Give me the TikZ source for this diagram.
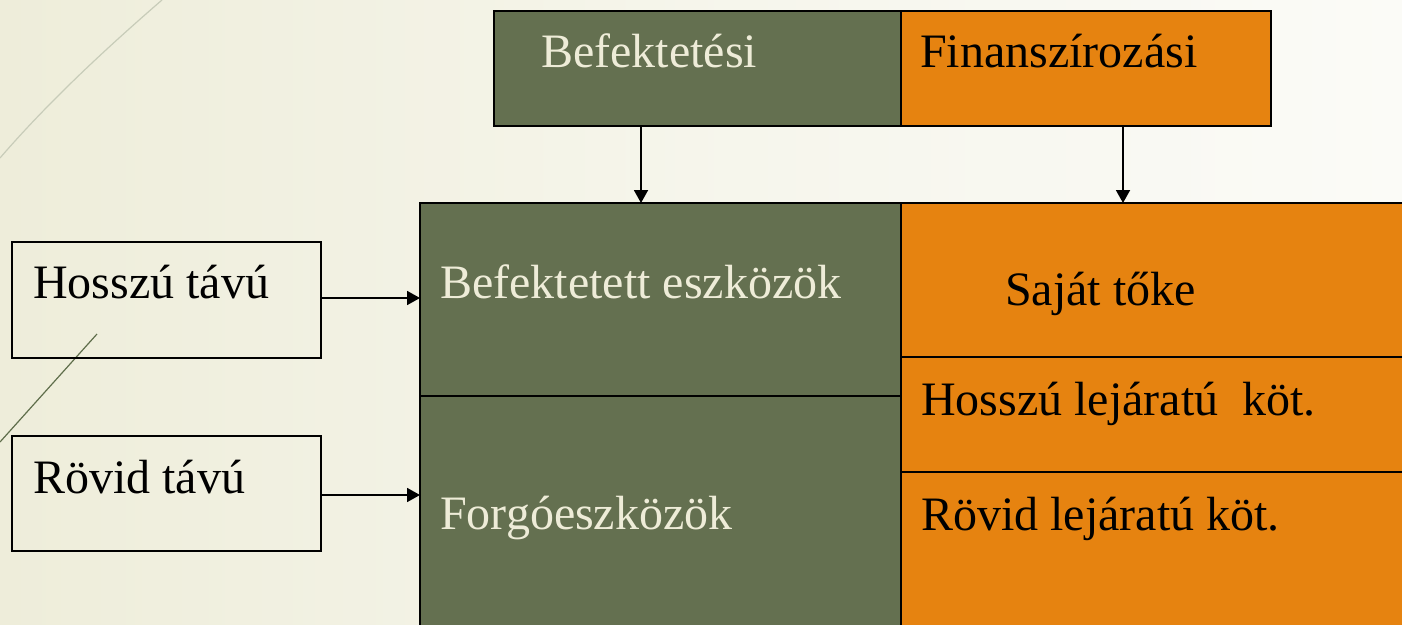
\documentclass[tikz,border=0pt]{standalone}
\usepackage{fontspec}
\setmainfont{Liberation Serif}
\usetikzlibrary{arrows.meta}
\definecolor{bggreen}{RGB}{100,112,80}
\definecolor{bgorange}{RGB}{230,131,16}
\definecolor{cream}{RGB}{238,236,216}
\definecolor{bgleft}{RGB}{238,237,218}
\definecolor{bgright}{RGB}{251,251,247}
\definecolor{deco1}{RGB}{200,204,185}
\definecolor{deco2}{RGB}{95,110,75}
\tikzset{
  box/.style={draw=black, line width=1.8pt, anchor=north west, inner sep=0pt, outer sep=0pt},
  gbox/.style={box, fill=bggreen},
  obox/.style={box, fill=bgorange},
  wbox/.style={box, fill=none},
  lbl/.style={anchor=base west, inner sep=0pt, font=\fontsize{48}{56}\selectfont},
  wlbl/.style={lbl, text=cream},
  conn/.style={line width=1.8pt, -{Triangle[length=13pt,width=14pt]}}
}
\begin{document}
\begin{tikzpicture}[x=1pt,y=-1pt]
\useasboundingbox (0,0) rectangle (1402,624);
\shade[left color=bgleft, right color=bgright, middle color=bgright!60!bgleft] (0,0) rectangle (1402,624);
\begin{scope}
\clip (0,0) rectangle (1402,624);
% decorative lines
\draw[deco1, line width=1.2pt] (0,158) .. controls (50,100) and (110,45) .. (162,0);
\draw[deco2, line width=1.2pt] (0,442) -- (97,334);
% top box
\node[gbox, minimum width=407pt, minimum height=115pt] (befb) at (494,11) {};
\node[obox, minimum width=370pt, minimum height=115pt] (finb) at (901,11) {};
% big block
\node[gbox, minimum width=481pt, minimum height=193pt] (eszk) at (420,203) {};
\node[gbox, minimum width=481pt, minimum height=240pt] (forg) at (420,396) {};
\node[obox, minimum width=520pt, minimum height=154pt] (sajat) at (901,203) {};
\node[obox, minimum width=520pt, minimum height=115pt] (hosszk) at (901,357) {};
\node[obox, minimum width=520pt, minimum height=170pt] (rovidk) at (901,472) {};
% left boxes
\node[wbox, minimum width=309pt, minimum height=116pt] (hossz) at (12,242) {};
\node[wbox, minimum width=309pt, minimum height=115pt] (rovid) at (12,436) {};
\end{scope}
% labels
\node[wlbl] (tbef) at (541,67) {Befektetési};
\node[lbl] (tfin) at (920,67) {Finanszírozási};
\node[wlbl] (tesz) at (440,298) {Befektetett eszközök};
\node[wlbl] (tforg) at (440,529) {Forgóeszközök};
\node[lbl] (tsaj) at (1005,305) {Saját tőke};
\node[lbl] (thk) at (921,415) {Hosszú lejáratú\ \ köt.};
\node[lbl] (trk) at (921,530) {Rövid lejáratú köt.};
\node[lbl] (thossz) at (33,298) {Hosszú távú};
\node[lbl] (trovid) at (33,493) {Rövid távú};
% connectors
\coordinate (a1) at (641,126);
\coordinate (a2) at (1123,126);
\draw[conn] (a1) -- (a1 |- eszk.north);
\draw[conn] (a2) -- (a2 |- sajat.north);
\draw[conn] (hossz.east |- 0,298) -- (eszk.west |- 0,298);
\draw[conn] (rovid.east |- 0,495) -- (forg.west |- 0,495);
\end{tikzpicture}
\end{document}
